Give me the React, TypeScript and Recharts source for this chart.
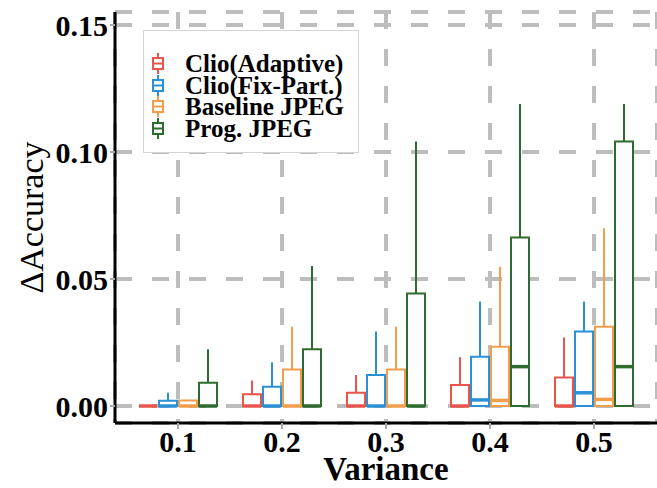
import React from 'react';
import { ComposedChart, Bar, XAxis, YAxis, CartesianGrid, Legend } from 'recharts';

const CATEGORIES = ['0.1', '0.2', '0.3', '0.4', '0.5'];
const SERIES_NAMES = ['Clio(Adaptive)', 'Clio(Fix-Part.)', 'Baseline JPEG', 'Prog. JPEG'];
const SERIES_COLORS = ['#E8554D', '#2A91D6', '#F29D4B', '#2E6B2E'];

// box stats per series, one value per variance level
const LOWER_QUARTILES = [
  [0, 0, 0, 0, 0],
  [0, 0, 0, 0, 0],
  [0, 0, 0, 0, 0],
  [0, 0, 0, 0, 0],
];
const MEDIANS = [
  [0, 0, 0, 0, 0],
  [0, 0, 0, 0.0024, 0.0052],
  [0, 0, 0, 0.0022, 0.0026],
  [0, 0, 0, 0.0155, 0.0155],
];
const UPPER_QUARTILES = [
  [0, 0.0046, 0.0052, 0.0083, 0.0112],
  [0.0021, 0.0076, 0.0122, 0.0194, 0.0293],
  [0.0022, 0.0144, 0.0144, 0.0233, 0.0312],
  [0.0092, 0.0223, 0.0443, 0.0663, 0.1041],
];
const UPPER_WHISKERS = [
  [0, 0.01, 0.0122, 0.0192, 0.027],
  [0.0052, 0.0172, 0.0293, 0.0411, 0.0411],
  [0.0022, 0.0312, 0.0312, 0.0548, 0.07],
  [0.0223, 0.0551, 0.1041, 0.1189, 0.1189],
];
const Y_TICKS = [0, 0.05, 0.1, 0.15];

const FONT = '"Liberation Serif", "Times New Roman", serif';

// stacked segments: base (q1), lower box (q1->median), upper box (median->q3), whisker (q3->max)
const data = CATEGORIES.map((cat, j) => {
  const row: Record<string, number | string> = { cat };
  SERIES_NAMES.forEach((_, i) => {
    row[`b${i}`] = LOWER_QUARTILES[i][j];
    row[`l${i}`] = MEDIANS[i][j] - LOWER_QUARTILES[i][j];
    row[`h${i}`] = UPPER_QUARTILES[i][j] - MEDIANS[i][j];
    row[`w${i}`] = UPPER_WHISKERS[i][j] - UPPER_QUARTILES[i][j];
  });
  return row;
});

const boxPath = (x: number, y: number, w: number, h: number) =>
  `M${x},${y} h${w} v${h} h${-w} Z`;

const lowerBox = (color: string) => (props: any) => {
  const { x, y, width, height } = props;
  return <path d={boxPath(x, y, width, Math.max(height, 0))} fill="#fff" stroke={color} strokeWidth={2} />;
};

const upperBox = (color: string) => (props: any) => {
  const { x, y, width, height } = props;
  const h = Math.max(height, 0);
  return (
    <g>
      <path d={boxPath(x, y, width, h)} fill="#fff" stroke={color} strokeWidth={2} />
      <line x1={x} x2={x + width} y1={y + h} y2={y + h} stroke={color} strokeWidth={3.5} />
    </g>
  );
};

const whisker = (color: string) => (props: any) => {
  const { x, y, width, height } = props;
  if (!height || height <= 0) return <g />;
  return <line x1={x + width / 2} x2={x + width / 2} y1={y} y2={y + height} stroke={color} strokeWidth={2} />;
};

const LegendIcon = ({ color }: { color: string }) => (
  <svg width={14} height={21} style={{ display: 'block' }}>
    <line x1={7} x2={7} y1={0} y2={21} stroke={color} strokeWidth={2} />
    <rect x={2} y={5} width={10} height={11} fill="#fff" stroke={color} strokeWidth={2} />
    <line x1={2} x2={12} y1={10.5} y2={10.5} stroke={color} strokeWidth={2} />
  </svg>
);

const LegendBox = () => (
  <div
    style={{
      width: 216,
      height: 123,
      border: '1px solid #d4d4d4',
      background: '#fff',
      boxSizing: 'border-box',
      paddingTop: 22,
    }}
  >
    {SERIES_NAMES.map((name, i) => (
      <div key={name} style={{ display: 'flex', alignItems: 'center', height: 21.5 }}>
        <div style={{ width: 14, marginLeft: 7 }}>
          <LegendIcon color={SERIES_COLORS[i]} />
        </div>
        <span
          style={{
            marginLeft: 20,
            fontFamily: FONT,
            fontWeight: 'bold',
            fontSize: 25,
            lineHeight: '21px',
            color: '#000',
            whiteSpace: 'nowrap',
          }}
        >
          {name}
        </span>
      </div>
    ))}
  </div>
);

export default function App() {
  return (
    <div style={{ position: 'absolute', left: 0, top: 0, background: '#fff' }}>
      <ComposedChart
        width={657}
        height={488}
        data={data}
        margin={{ top: 12, right: 0, bottom: 0, left: 0 }}
        barCategoryGap={13}
        barGap={2}
      >
        <CartesianGrid stroke="#bdbdbd" strokeWidth={4} strokeDasharray="17 20" />
        <XAxis
          dataKey="cat"
          padding={{ left: 11, right: 11 }}
          height={65}
          tickSize={6}
          tickLine={{ stroke: '#aaa', strokeWidth: 2 }}
          axisLine={{ stroke: '#000', strokeWidth: 3 }}
          tick={{ fill: '#000', fontSize: 30, fontWeight: 'bold', fontFamily: FONT }}
          label={{
            value: 'Variance',
            position: 'insideBottom',
            offset: 8,
            style: { fill: '#000', fontSize: 33, fontWeight: 'bold', fontFamily: FONT },
          }}
        />
        <XAxis
          xAxisId="top"
          dataKey="cat"
          orientation="top"
          height={0}
          tick={false}
          tickLine={false}
          axisLine={{ stroke: '#222', strokeWidth: 3 }}
        />
        <YAxis
          type="number"
          domain={[-0.00669, 0.15512]}
          allowDataOverflow
          ticks={Y_TICKS}
          tickFormatter={(v: number) => v.toFixed(2)}
          width={115}
          tickSize={5}
          tickLine={{ stroke: '#aaa', strokeWidth: 2 }}
          axisLine={{ stroke: '#000', strokeWidth: 3 }}
          tick={{ fill: '#000', fontSize: 30, fontWeight: 'bold', fontFamily: FONT }}
          label={{
            value: 'ΔAccuracy',
            angle: -90,
            position: 'insideLeft',
            offset: 26,
            dx: 5,
            style: { fill: '#000', fontSize: 34, fontFamily: FONT, textAnchor: 'middle' },
          }}
        />
        <Legend
          layout="vertical"
          align="center"
          verticalAlign="middle"
          wrapperStyle={{ position: 'absolute', left: 143, top: 30, width: 216 }}
          content={() => <LegendBox />}
        />
        {SERIES_NAMES.map((name, i) => [
          <Bar key={`b${i}`} dataKey={`b${i}`} stackId={`s${i}`} fill="none" isAnimationActive={false} legendType="none" />,
          <Bar
            key={`l${i}`}
            dataKey={`l${i}`}
            stackId={`s${i}`}
            name={name}
            shape={lowerBox(SERIES_COLORS[i])}
            isAnimationActive={false}
          />,
          <Bar
            key={`h${i}`}
            dataKey={`h${i}`}
            stackId={`s${i}`}
            shape={upperBox(SERIES_COLORS[i])}
            isAnimationActive={false}
            legendType="none"
          />,
          <Bar
            key={`w${i}`}
            dataKey={`w${i}`}
            stackId={`s${i}`}
            shape={whisker(SERIES_COLORS[i])}
            isAnimationActive={false}
            legendType="none"
          />,
        ])}
      </ComposedChart>
    </div>
  );
}
